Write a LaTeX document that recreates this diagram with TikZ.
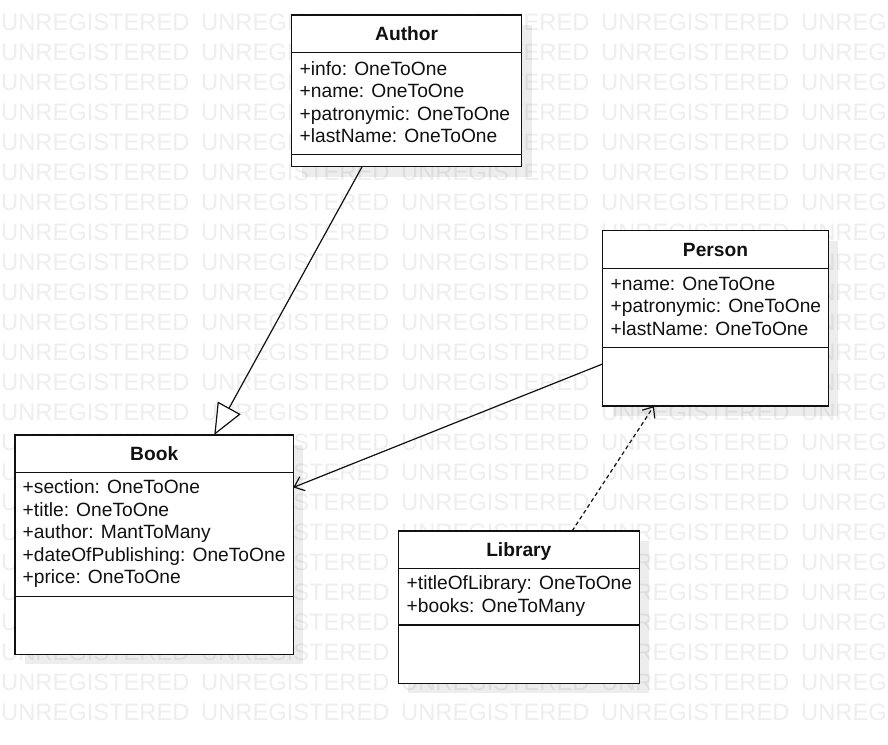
\documentclass[tikz,border=0pt]{standalone}
\usepackage{fontspec}
\setmainfont{Liberation Sans}
\usetikzlibrary{arrows.meta,calc,shadows}
\definecolor{wmgray}{HTML}{EEEEEE}
\definecolor{ink}{HTML}{111111}
\begin{document}
\begin{tikzpicture}[x=1pt,y=-1pt,
  wm/.style={text=wmgray, font=\fontsize{23.7}{24}\selectfont, anchor=base west, inner sep=0pt},
  umlbox/.style={draw=ink, line width=1.2pt, fill=white, rectangle, inner sep=0pt, outer sep=0pt, anchor=north west,
    drop shadow={shadow xshift=10pt, shadow yshift=-10pt, fill=black, opacity=0.07}},
  sep/.style={draw=ink, line width=1.2pt},
  ttl/.style={font=\bfseries\fontsize{19.2}{22}\selectfont, text=ink, anchor=base, inner sep=0pt},
  attr/.style={font=\fontsize{19.2}{22}\selectfont, text=ink, anchor=base west, inner sep=0pt},
  gen/.style={draw=ink, line width=1.2pt, -{Triangle[open, length=31pt, width=26pt, fill=white]}},
  assoc/.style={draw=ink, line width=1.2pt, -{Straight Barb[length=9pt, width=15pt]}},
  dep/.style={draw=ink, line width=1.2pt, dash pattern=on 4pt off 3pt, -{Straight Barb[length=9pt, width=15pt]}}
]
\useasboundingbox (0,0) rectangle (888,744);
\clip (0,0) rectangle (888,744);
\fill[white] (0,0) rectangle (888,744);
% watermark
\foreach \r in {0,...,23}{
  \foreach \c in {0,...,4}{
    \node[wm] (wm-\r-\c) at ({1+200*\c},{30+30*\r}) {UNREGISTERED};
  }
}
% Author
\node[umlbox, minimum width=230pt, minimum height=151.7pt] (author) at (291.7,15) {};
\draw[sep] (author.west |- 0,52.3) -- (author.east |- 0,52.3);
\draw[sep] (author.west |- 0,154.5) -- (author.east |- 0,154.5);
\node[ttl] (author-t) at (406.7,40) {Author};
\node[attr] (author-a1) at (299.5,75) {+info: OneToOne};
\node[attr] (author-a2) at (299.5,97.5) {+name: OneToOne};
\node[attr] (author-a3) at (299.5,120) {+patronymic: OneToOne};
\node[attr] (author-a4) at (299.5,142.5) {+lastName: OneToOne};
% Person
\node[umlbox, minimum width=225.6pt, minimum height=175.3pt] (person) at (602.7,230.7) {};
\draw[sep] (person.west |- 0,268.3) -- (person.east |- 0,268.3);
\draw[sep] (person.west |- 0,347.7) -- (person.east |- 0,347.7);
\node[ttl] (person-t) at (715.5,256) {Person};
\node[attr] (person-a1) at (610.5,290) {+name: OneToOne};
\node[attr] (person-a2) at (610.5,312.5) {+patronymic: OneToOne};
\node[attr] (person-a3) at (610.5,335) {+lastName: OneToOne};
% Book
\node[umlbox, minimum width=278.3pt, minimum height=219.3pt] (book) at (15,435) {};
\draw[sep] (book.west |- 0,472.3) -- (book.east |- 0,472.3);
\draw[sep] (book.west |- 0,596.7) -- (book.east |- 0,596.7);
\node[ttl] (book-t) at (154.2,460) {Book};
\node[attr] (book-a1) at (22.5,493.3) {+section: OneToOne};
\node[attr] (book-a2) at (22.5,516) {+title: OneToOne};
\node[attr] (book-a3) at (22.5,538.5) {+author: MantToMany};
\node[attr] (book-a4) at (22.5,561) {+dateOfPublishing: OneToOne};
\node[attr] (book-a5) at (22.5,583.5) {+price: OneToOne};
% Library
\node[umlbox, minimum width=241pt, minimum height=152.3pt] (library) at (398.3,531) {};
\draw[sep] (library.west |- 0,568.3) -- (library.east |- 0,568.3);
\draw[sep] (library.west |- 0,625) -- (library.east |- 0,625);
\node[ttl] (library-t) at (518.8,556.7) {Library};
\node[attr] (library-a1) at (406.5,589.3) {+titleOfLibrary: OneToOne};
\node[attr] (library-a2) at (406.5,612.3) {+books: OneToMany};
% connectors
\coordinate (aS) at ($(author.south west)!0.306!(author.south east)$);
\coordinate (bN) at ($(book.north west)!0.716!(book.north east)$);
\coordinate (pW) at ($(person.north west)!0.76!(person.south west)$);
\coordinate (bE) at ($(book.north east)!0.239!(book.south east)$);
\coordinate (lN) at ($(library.north west)!0.721!(library.north east)$);
\coordinate (pS) at ($(person.south west)!0.227!(person.south east)$);
\draw[gen] (aS) -- (bN);
\draw[assoc] (pW) -- (bE);
\draw[dep] (lN) -- (pS);
\end{tikzpicture}
\end{document}
